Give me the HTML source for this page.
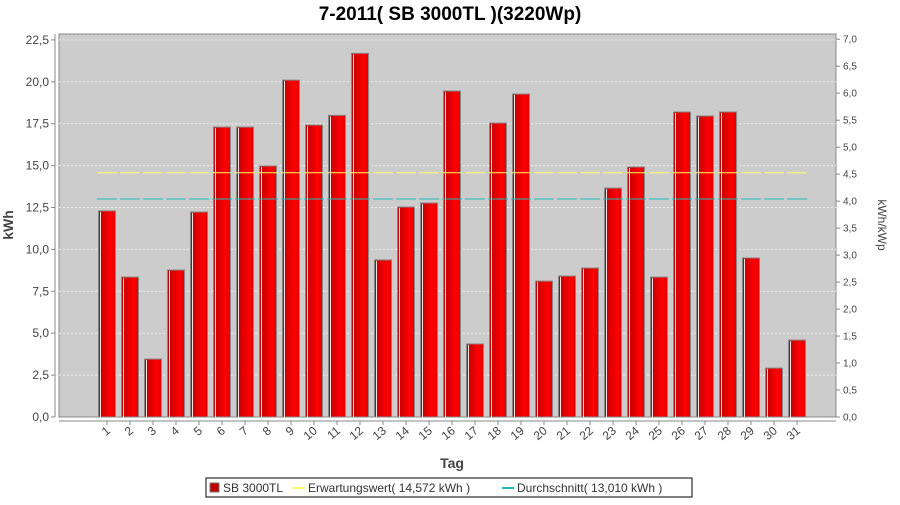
<!DOCTYPE html>
<html><head><meta charset="utf-8"><style>
body{margin:0;background:#fff;}
svg text{font-family:"Liberation Sans","DejaVu Sans",sans-serif;}
</style></head><body>
<svg id="c" width="900" height="500" xmlns="http://www.w3.org/2000/svg">
<defs>
<linearGradient id="rg" x1="0" x2="1" y1="0" y2="0">
<stop offset="0" stop-color="#b80000"/><stop offset="0.7" stop-color="#ff0000"/><stop offset="1" stop-color="#e00000"/>
</linearGradient>
</defs>
<text x="450" y="20" text-anchor="middle" font-size="19" font-weight="bold" fill="#000">7-2011( SB 3000TL )(3220Wp)</text>
<rect x="59" y="34" width="777" height="383" fill="#cccccc" stroke="#888"/>
<g id="grid"></g><g id="bars"></g><g id="lines"></g><g id="axes"></g>
<text x="452" y="468" text-anchor="middle" font-size="14" font-weight="bold" fill="#444">Tag</text>
<text transform="translate(13,225) rotate(-90)" text-anchor="middle" font-size="14" font-weight="bold" fill="#444">kWh</text>
<text transform="translate(878,225) rotate(90)" text-anchor="middle" font-size="12" fill="#444">kWh/kWp</text>
<g>
<rect x="206" y="478" width="486" height="19" fill="#fff" stroke="#000"/>
<rect x="210" y="483" width="9" height="9" fill="#c00000" stroke="#777"/>
<text x="223" y="492" font-size="12" fill="#333">SB 3000TL</text>
<line x1="293" x2="305" y1="488" y2="488" stroke="#ffff66" stroke-width="2"/>
<text x="308" y="492" font-size="12" fill="#333">Erwartungswert( 14,572 kWh )</text>
<line x1="502" x2="514" y1="488" y2="488" stroke="#22bbbb" stroke-width="2"/>
<text x="517" y="492" font-size="12" fill="#333">Durchschnitt( 13,010 kWh )</text>
</g>
</svg>
<script>
const days=[1,2,3,4,5,6,7,8,9,10,11,12,13,14,15,16,17,18,19,20,21,22,23,24,25,26,27,28,29,30,31];
const energy=[12.3,8.35,3.46,8.77,12.23,17.3,17.3,14.98,20.1,17.42,18.0,21.7,9.37,12.53,12.77,19.45,4.36,17.54,19.27,8.11,8.41,8.89,13.66,14.92,8.35,18.2,17.96,18.2,9.49,2.92,4.59];
const expected=14.572;
const average=13.010;
const yTicks=["0,0","2,5","5,0","7,5","10,0","12,5","15,0","17,5","20,0","22,5"];
const y2Ticks=["0,0","0,5","1,0","1,5","2,0","2,5","3,0","3,5","4,0","4,5","5,0","5,5","6,0","6,5","7,0"];
const NS="http://www.w3.org/2000/svg";
const y0=417,perUnit=16.76,kwp=3.22;
function ys(v){return y0-v*perUnit;}
function xs(i){return 107+i*23;}
function mk(t,a,p){const e=document.createElementNS(NS,t);for(const k in a)e.setAttribute(k,a[k]);p.appendChild(e);return e;}
const grid=document.getElementById('grid'),bars=document.getElementById('bars'),lines=document.getElementById('lines'),axes=document.getElementById('axes');
mk('line',{x1:55,x2:55,y1:34,y2:417,stroke:'#888'},axes);
mk('line',{x1:59,x2:836,y1:421,y2:421,stroke:'#888'},axes);
yTicks.forEach((t,i)=>{const v=i*2.5,y=ys(v);
 if(i>0){const g=mk('line',{x1:59,x2:836,y1:y,y2:y,stroke:'#eee','stroke-dasharray':'2,2'},grid);
 
 }
 mk('line',{x1:51,x2:55,y1:y,y2:y,stroke:'#888'},axes);
 const tx=mk('text',{x:49,y:y+4,'text-anchor':'end','font-size':12,fill:'#444'},axes);tx.textContent=t;
 
 });
y2Ticks.forEach((t,i)=>{const y=ys(i*0.5*kwp);
 mk('line',{x1:836,x2:840,y1:y,y2:y,stroke:'#888'},axes);
 const tx=mk('text',{x:843,y:y+3.5,'font-size':10,fill:'#444'},axes);tx.textContent=t;
 
 });
days.forEach((d,i)=>{const cx=xs(i),v=energy[i],top=ys(v);
 const g=mk('g',{},bars);
 
 
 mk('rect',{x:cx-8.5,y:top,width:17,height:y0-top,fill:'url(#rg)',stroke:'#888'},g);
 mk('line',{x1:cx-6.5,x2:cx-6.5,y1:top+1,y2:y0,stroke:'#ffdddd','stroke-width':1},g);
 const e=mk('line',{x1:cx-10,x2:cx+10,y1:ys(expected),y2:ys(expected),stroke:'#ffff66','stroke-width':1},lines);
 
 
 const a=mk('line',{x1:cx-10,x2:cx+10,y1:ys(average),y2:ys(average),stroke:'#22bbbb','stroke-width':1},lines);
 
 
 mk('line',{x1:cx,x2:cx,y1:421,y2:425,stroke:'#888'},axes);
 const tx=mk('text',{'text-anchor':'end','font-size':12,fill:'#444',transform:'translate('+(cx+4)+',432) rotate(-40)'},axes);tx.textContent=d;
 
 });
</script>
</body></html>
